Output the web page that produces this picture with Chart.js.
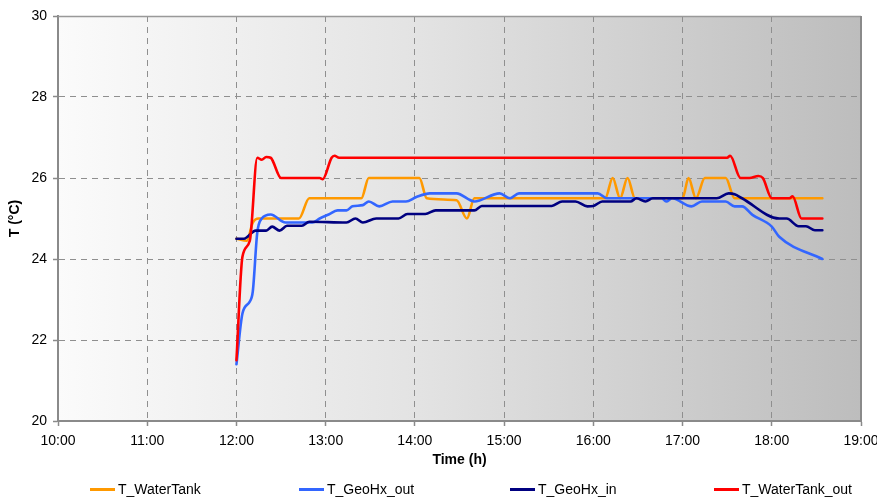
<!DOCTYPE html>
<html>
<head>
<meta charset="utf-8">
<script src="https://cdn.jsdelivr.net/npm/chart.js@4/dist/chart.umd.min.js"></script>
<style>
  html, body { margin: 0; padding: 0; background: #fff; }
  #wrap { width: 877px; height: 499px; }
</style>
</head>
<body>
<div id="wrap"><canvas id="c" width="877" height="499"></canvas></div>
<script>
// Temperature logs (°C) by clock time
const waterTankTimes = ['12:00','12:07','12:11','12:15','12:42','12:49','13:24','13:29','14:03','14:08','14:28','14:35','14:40','16:08','16:13','16:18','16:23','16:28','17:00','17:04','17:09','17:15','17:22','17:29','17:35','18:34'];
const waterTankValues = [24.5,24.45,24.9,25.0,25.0,25.5,25.5,26.0,26.0,25.5,25.45,25.0,25.5,25.5,26.0,25.5,26.0,25.5,25.5,26.0,25.5,26.0,26.0,26.0,25.5,25.5];

const geoHxOutTimes = ['12:00','12:04','12:09','12:11','12:14','12:17','12:23','12:33','12:51','12:56','13:02','13:08','13:14','13:18','13:25','13:29','13:36','13:45','13:54','14:01','14:10','14:28','14:40','14:57','15:04','15:10','16:03','16:09','16:46','16:49','16:53','17:06','17:13','17:29','17:35','17:40','17:47','18:00','18:05','18:34'];
const geoHxOutValues = [21.4,22.65,22.95,23.2,24.65,25.0,25.1,24.9,24.9,25.0,25.1,25.2,25.2,25.3,25.33,25.42,25.3,25.42,25.42,25.53,25.62,25.62,25.42,25.62,25.5,25.62,25.62,25.5,25.5,25.42,25.5,25.3,25.42,25.42,25.3,25.3,25.09,24.8,24.55,24.0];

const geoHxInTimes = ['12:00','12:05','12:13','12:20','12:24','12:29','12:34','12:44','12:49','13:14','13:20','13:25','13:34','13:49','13:55','14:07','14:14','14:40','14:45','15:32','15:39','15:48','15:56','16:00','16:06','16:25','16:29','16:35','16:40','17:23','17:31','17:35','17:40','18:05','18:10','18:18','18:23','18:29','18:34'];
const geoHxInValues = [24.5,24.5,24.7,24.7,24.8,24.7,24.82,24.82,24.92,24.9,25.0,24.9,25.0,25.0,25.11,25.11,25.2,25.2,25.31,25.31,25.42,25.42,25.3,25.31,25.42,25.42,25.5,25.42,25.5,25.5,25.62,25.6,25.5,25.0,25.0,24.81,24.81,24.71,24.71];

const waterTankOutTimes = ['12:00','12:04','12:09','12:14','12:17','12:20','12:23','12:30','12:56','12:58','13:04','13:06','13:09','17:30','17:32','17:39','17:45','17:51','17:54','18:00','18:12','18:14','18:20','18:34'];
const waterTankOutValues = [21.5,24.05,24.45,26.5,26.45,26.52,26.5,26.0,26.0,25.97,26.5,26.55,26.5,26.5,26.55,26.0,26.0,26.05,26.0,25.5,25.5,25.55,25.0,25.0];

const seriesNames = ['T_WaterTank', 'T_GeoHx_out', 'T_GeoHx_in', 'T_WaterTank_out'];
const seriesColors = ['#FF9900', '#3366FF', '#000080', '#FF0000'];

// Axis ranges
const hourMin = 10, hourMax = 19;
const tempMin = 20, tempMax = 30, tempStep = 2;

const FONT = '"Liberation Sans", Arial, sans-serif';

function toHours(t) {
  const [h, m] = t.split(':').map(Number);
  return h + m / 60;
}
function points(times, values) {
  return times.map((t, i) => ({ x: toHours(t), y: values[i] }));
}

const seriesData = [
  points(waterTankTimes, waterTankValues),
  points(geoHxOutTimes, geoHxOutValues),
  points(geoHxInTimes, geoHxInValues),
  points(waterTankOutTimes, waterTankOutValues)
];

// Plot background gradient and frame
const plotFrame = {
  id: 'plotFrame',
  beforeDraw(chart) {
    const { ctx, chartArea: a } = chart;
    ctx.save();
    ctx.fillStyle = '#ffffff';
    ctx.fillRect(0, 0, chart.width, chart.height);
    const g = ctx.createLinearGradient(a.left, 0, a.right, 0);
    g.addColorStop(0, '#fbfbfb');
    g.addColorStop(0.45, '#e3e3e3');
    g.addColorStop(1, '#bdbdbd');
    ctx.fillStyle = g;
    ctx.fillRect(a.left, a.top, a.right - a.left, a.bottom - a.top);
    ctx.restore();
  },
  afterDraw(chart) {
    const { ctx, chartArea: a } = chart;
    ctx.save();
    ctx.strokeStyle = '#999999';
    ctx.lineWidth = 1.5;
    ctx.beginPath();
    ctx.moveTo(a.left, a.top + 0.5);
    ctx.lineTo(a.right, a.top + 0.5);
    ctx.stroke();
    ctx.strokeStyle = '#8a8a8a';
    ctx.lineWidth = 2;
    ctx.beginPath();
    ctx.moveTo(a.right, a.top);
    ctx.lineTo(a.right, a.bottom);
    ctx.stroke();
    ctx.restore();
  }
};

// Legend row along the bottom
const bottomLegend = {
  id: 'bottomLegend',
  afterDraw(chart) {
    const { ctx } = chart;
    const starts = [90, 299, 510, 714];
    const y = 489.5;
    ctx.save();
    ctx.font = '14px ' + FONT;
    ctx.textBaseline = 'middle';
    ctx.textAlign = 'left';
    chart.data.datasets.forEach((ds, i) => {
      const x = starts[i];
      ctx.strokeStyle = ds.borderColor;
      ctx.lineWidth = 3;
      ctx.beginPath();
      ctx.moveTo(x, y);
      ctx.lineTo(x + 25, y);
      ctx.stroke();
      ctx.fillStyle = '#000';
      ctx.fillText(ds.label, x + 28, y + 0.5);
    });
    ctx.restore();
  }
};

const drawOrder = [3, 2, 1, 0];

new Chart(document.getElementById('c'), {
  type: 'line',
  data: {
    datasets: seriesNames.map((name, i) => ({
      label: name,
      data: seriesData[i],
      borderColor: seriesColors[i],
      backgroundColor: seriesColors[i],
      borderWidth: 2.6,
      pointRadius: 0,
      cubicInterpolationMode: 'monotone',
      borderCapStyle: 'round',
      borderJoinStyle: 'round',
      fill: false,
      order: drawOrder[i]
    }))
  },
  options: {
    responsive: false,
    animation: false,
    layout: { padding: { top: 16, right: 16, left: 0, bottom: 0 } },
    plugins: {
      legend: { display: false },
      tooltip: { enabled: false }
    },
    scales: {
      x: {
        type: 'linear',
        min: hourMin,
        max: hourMax,
        ticks: {
          stepSize: 1,
          color: '#000',
          padding: 7,
          maxRotation: 0,
          font: { family: FONT, size: 14 },
          callback: v => String(v).padStart(2, '0') + ':00'
        },
        grid: {
          color: ctx => (ctx.tick && (ctx.tick.value === hourMin || ctx.tick.value === hourMax)) ? 'rgba(0,0,0,0)' : '#8f8f8f',
          lineWidth: 1,
          tickLength: 5,
          tickColor: '#8a8a8a',
          tickWidth: 1.5,
          tickBorderDash: []
        },
        border: { display: true, color: '#8a8a8a', width: 2, dash: [6, 5] },
        title: {
          display: true,
          text: 'Time (h)',
          color: '#000',
          font: { family: FONT, size: 14, weight: 'bold' },
          padding: { top: 0, bottom: 30 }
        },
        afterFit: s => { s.height = 78; s.paddingLeft = 0; s.paddingRight = 0; }
      },
      y: {
        min: tempMin,
        max: tempMax,
        ticks: {
          stepSize: tempStep,
          color: '#000',
          padding: 6,
          font: { family: FONT, size: 14 }
        },
        grid: {
          color: ctx => (ctx.tick && (ctx.tick.value === tempMin || ctx.tick.value === tempMax)) ? 'rgba(0,0,0,0)' : '#8f8f8f',
          lineWidth: 1,
          tickLength: 5,
          tickColor: '#8a8a8a',
          tickWidth: 1.5,
          tickBorderDash: []
        },
        border: { display: true, color: '#8a8a8a', width: 2, dash: [6, 5] },
        title: {
          display: true,
          text: 'T (°C)',
          color: '#000',
          font: { family: FONT, size: 14, weight: 'bold' },
          padding: { top: 7, bottom: 0 }
        },
        afterFit: s => { s.width = 58; s.paddingTop = 0; s.paddingBottom = 0; }
      }
    }
  },
  plugins: [plotFrame, bottomLegend]
});
</script>
</body>
</html>
